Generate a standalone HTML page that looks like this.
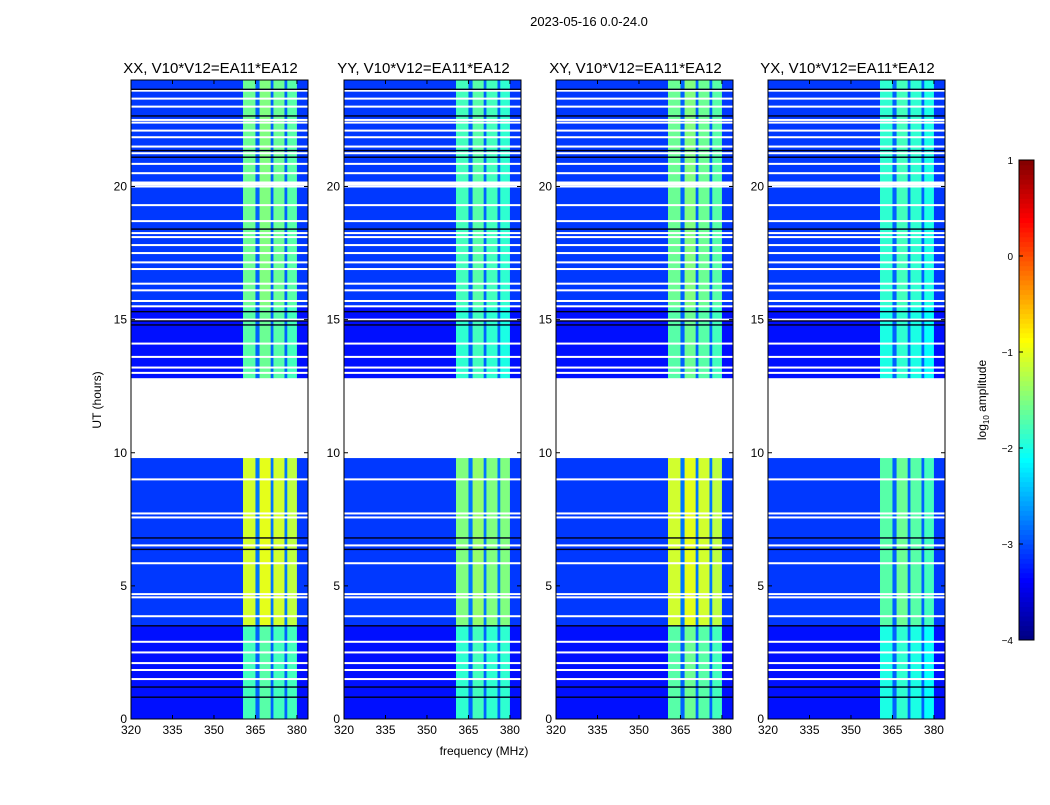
<!DOCTYPE html>
<html><head><meta charset="utf-8"><style>
body{margin:0;background:#fff;font-family:"Liberation Sans",sans-serif}
svg text{font-family:"Liberation Sans",sans-serif}
</style></head><body>
<svg id="fig" width="1050" height="800" xmlns="http://www.w3.org/2000/svg">
<text x="589" y="26" font-size="13" text-anchor="middle">2023-05-16 0.0-24.0</text>
<g id="panels"></g>
<text x="484" y="755" font-size="12" text-anchor="middle">frequency (MHz)</text>
<text transform="translate(101,400) rotate(-90)" font-size="12" text-anchor="middle">UT (hours)</text>
<g id="cbar"></g>
<text transform="translate(986,400) rotate(-90)" font-size="12" text-anchor="middle">log<tspan font-size="8" dy="3">10</tspan><tspan dy="-3"> amplitude</tspan></text>
</svg>
<script>
const panelTitles=["XX, V10*V12=EA11*EA12","YY, V10*V12=EA11*EA12","XY, V10*V12=EA11*EA12","YX, V10*V12=EA11*EA12"];
const freqEdges=[320,360.5,365,366.5,370.5,371.5,375.5,376.5,380,384];
const timeBlocks=[[0,3.5,0],[3.5,9.8,1],[12.8,15.5,2],[15.5,24,3]];
const bgLevels=[-3.3,-3.1,-3.3,-3.1];
const bandXX=[[-1.8,-2.9,-1.7,-2.9,-1.8,-2.9,-1.8],[-1.1,-2.8,-1.0,-2.8,-1.1,-2.8,-1.2],[-1.7,-2.9,-1.6,-2.9,-1.7,-2.9,-1.8],[-1.6,-2.9,-1.5,-2.9,-1.6,-2.9,-1.7]];
const bandYY=[[-1.9,-2.9,-1.8,-2.9,-1.9,-2.9,-1.9],[-1.5,-2.8,-1.4,-2.8,-1.5,-2.8,-1.5],[-1.9,-2.9,-1.8,-2.9,-1.9,-2.9,-2.0],[-1.8,-2.9,-1.7,-2.9,-1.8,-2.9,-1.9]];
const bandXY=[[-1.7,-2.9,-1.6,-2.9,-1.7,-2.9,-1.8],[-1.1,-2.8,-1.0,-2.8,-1.1,-2.8,-1.2],[-1.7,-2.9,-1.6,-2.9,-1.7,-2.9,-1.8],[-1.6,-2.9,-1.5,-2.9,-1.6,-2.9,-1.7]];
const bandYX=[[-2.0,-2.9,-1.9,-2.9,-2.0,-2.9,-2.1],[-1.7,-2.9,-1.6,-2.9,-1.7,-2.9,-1.8],[-2.0,-2.9,-1.9,-2.9,-2.0,-2.9,-2.1],[-1.9,-2.9,-1.8,-2.9,-1.9,-2.9,-2.0]];
const whiteRows=[1.5,1.84,2.1,2.5,2.9,3.86,4.57,4.69,5.85,6.52,7.57,7.72,9.0,13.0,13.2,13.6,14.1,15.0,15.5,15.7,16.1,16.35,16.9,17.15,17.5,17.8,18.1,18.25,18.7,19.3,20.0,20.08,20.15,20.5,20.85,21.25,21.5,21.85,22.1,22.4,22.5,23.0,23.3,23.6];
const darkRows=[0.82,1.2,3.5,6.37,6.8,14.8,14.95,15.3,18.4,21.1,21.35,22.65,23.65];
const xTicks=[320,335,350,365,380];
const yTicks=[0,5,10,15,20];
const cbTicks=[1,0,-1,-2,-3,-4];
const cbLabels=["1","0","\u22121","\u22122","\u22123","\u22124"];
const panelLeft=[131,344,556,768], pw=177, pTop=80, pBottom=719;
const bands=[bandXX,bandYY,bandXY,bandYX];
const NS="http://www.w3.org/2000/svg";
function jet(v){
  let t=(v+4)/5; t=Math.max(0,Math.min(1,t));
  const f=x=>Math.max(0,Math.min(1,1.5-Math.abs(4*t-x)));
  return `rgb(${Math.round(255*f(3))},${Math.round(255*f(2))},${Math.round(255*f(1))})`;
}
function yS(h){return pBottom-(h/24)*(pBottom-pTop);}
function mk(tag,attrs,parent){const e=document.createElementNS(NS,tag);for(const k in attrs)e.setAttribute(k,attrs[k]);parent.appendChild(e);return e;}
const G=document.getElementById('panels');
panelLeft.forEach((L,p)=>{
  const xS=f=>L+(f-320)/(384-320)*pw;
  const g=mk('g',{},G);
  
  
  timeBlocks.forEach(tb=>{
    for(let s=0;s<freqEdges.length-1;s++){
      const isBand=s>=1&&s<=7;
      const v=isBand?bands[p][tb[2]][s-1]:bgLevels[tb[2]];
      const r=mk('rect',{x:xS(freqEdges[s]),y:yS(tb[1]),width:xS(freqEdges[s+1])-xS(freqEdges[s])+0.3,height:yS(tb[0])-yS(tb[1]),fill:jet(v)},g);
      
      
    }
  });
  whiteRows.forEach(h=>{const r=mk('rect',{x:L,y:yS(h)-1,width:pw,height:2,fill:'#fff'},g);
    
    });
  darkRows.forEach(h=>{const r=mk('rect',{x:L,y:yS(h)-0.7,width:pw,height:1.4,fill:'#000018'},g);
    
    });
  mk('rect',{x:L,y:pTop,width:pw,height:pBottom-pTop,fill:'none',stroke:'#000','stroke-width':1},g);
  const t=mk('text',{x:L+pw/2-9,y:73,'font-size':15,'text-anchor':'middle'},g);t.textContent=panelTitles[p];
  
  
  xTicks.forEach(f=>{const x=xS(f);
    mk('line',{x1:x,x2:x,y1:pBottom,y2:pBottom-4,stroke:'#000'},g);mk('line',{x1:x,x2:x,y1:pTop,y2:pTop+4,stroke:'#000'},g);
    const tx=mk('text',{x:x,y:pBottom+15,'font-size':12,'text-anchor':'middle'},g);tx.textContent=f;
    
    });
  yTicks.forEach(h=>{const y=yS(h);
    mk('line',{x1:L,x2:L+4,y1:y,y2:y,stroke:'#000'},g);mk('line',{x1:L+pw,x2:L+pw-4,y1:y,y2:y,stroke:'#000'},g);
    const ty=mk('text',{x:L-4,y:y+4,'font-size':12,'text-anchor':'end'},g);ty.textContent=h;
    
    });
});
const CB=document.getElementById('cbar');
const cbTop=160,cbBot=640,cbX=1019,cbW=15;
const cy=v=>cbBot-(v+4)/5*(cbBot-cbTop);
for(let i=0;i<100;i++){const v=-4+5*i/100;mk('rect',{x:cbX,y:cy(v+0.05),width:cbW,height:(cbBot-cbTop)/100+0.5,fill:jet(v+0.025)},CB);}
mk('rect',{x:cbX,y:cbTop,width:cbW,height:cbBot-cbTop,fill:'none',stroke:'#000'},CB);
cbTicks.forEach((v,i)=>{const y=cy(v);mk('line',{x1:cbX,x2:cbX+4,y1:y,y2:y,stroke:'#000'},CB);
  const t=mk('text',{x:cbX-6,y:y+4,'font-size':10,'text-anchor':'end'},CB);t.textContent=cbLabels[i];
  
  });
</script>
</body></html>
